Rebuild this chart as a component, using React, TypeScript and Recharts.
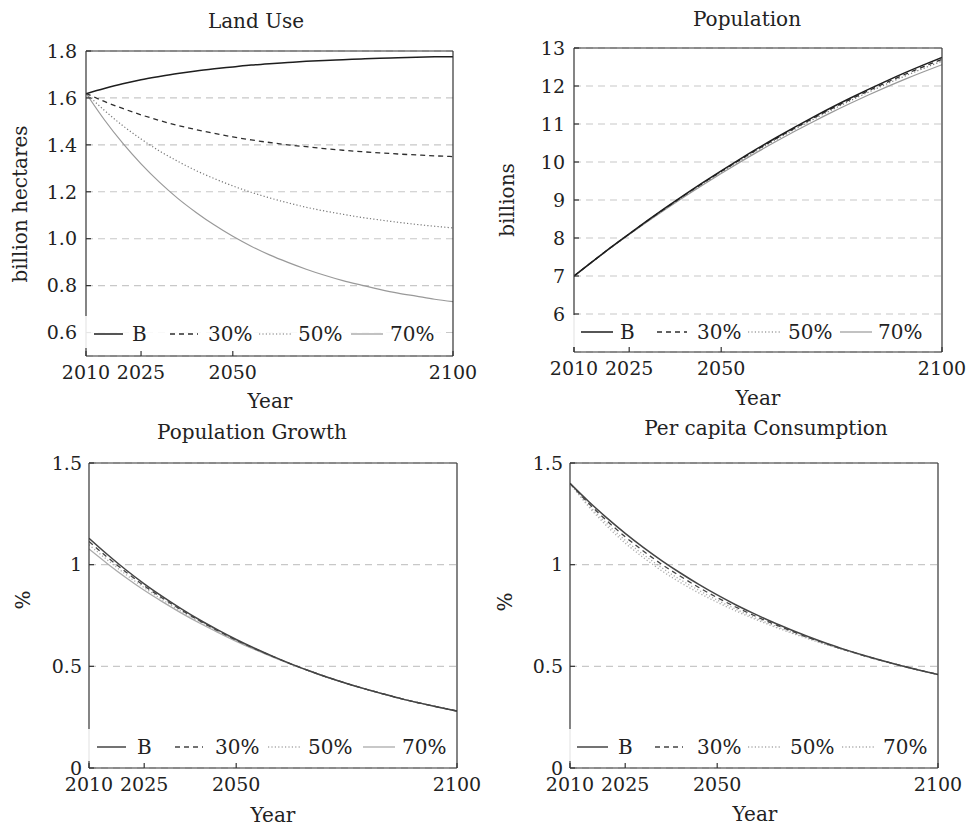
import React from 'react';
import { LineChart, Line, XAxis, YAxis, CartesianGrid, Legend } from 'recharts';

// ---------- data ----------
const steps = [0, 5, 10, 15, 20, 25, 30, 35, 40, 45, 50, 55, 60, 65, 70, 75, 80, 85, 90, 95, 100];
const yearTicks = [0, 15, 40, 100];
const yearLabels = ['2010', '2025', '2050', '2100'];
const seriesKeys = ['B', 's30', 's50', 's70'];
const seriesNames = ['B', '30%', '50%', '70%'];

const landB = [1.618, 1.640, 1.660, 1.677, 1.691, 1.704, 1.715, 1.724, 1.732, 1.740, 1.746, 1.751, 1.756, 1.760, 1.763, 1.766, 1.769, 1.771, 1.773, 1.775, 1.776];
const land30 = [1.620, 1.585, 1.555, 1.528, 1.504, 1.483, 1.465, 1.449, 1.434, 1.421, 1.410, 1.400, 1.392, 1.384, 1.377, 1.371, 1.366, 1.361, 1.357, 1.353, 1.350];
const land50 = [1.620, 1.547, 1.482, 1.425, 1.374, 1.330, 1.290, 1.256, 1.225, 1.198, 1.174, 1.153, 1.134, 1.118, 1.104, 1.091, 1.080, 1.070, 1.061, 1.053, 1.046];
const land70 = [1.620, 1.507, 1.407, 1.319, 1.241, 1.172, 1.112, 1.058, 1.010, 0.968, 0.931, 0.899, 0.870, 0.844, 0.821, 0.802, 0.784, 0.768, 0.755, 0.742, 0.732];

const popB = [7.000, 7.380, 7.751, 8.111, 8.462, 8.803, 9.135, 9.456, 9.768, 10.070, 10.363, 10.645, 10.918, 11.181, 11.435, 11.678, 11.912, 12.136, 12.351, 12.555, 12.750];
const pop30 = [7.000, 7.379, 7.749, 8.106, 8.455, 8.793, 9.123, 9.441, 9.751, 10.050, 10.341, 10.620, 10.891, 11.151, 11.403, 11.643, 11.875, 12.096, 12.309, 12.510, 12.703];
const pop50 = [7.000, 7.378, 7.746, 8.101, 8.447, 8.783, 9.110, 9.426, 9.733, 10.030, 10.318, 10.595, 10.863, 11.121, 11.370, 11.608, 11.837, 12.056, 12.266, 12.465, 12.655];
const pop70 = [7.000, 7.375, 7.741, 8.091, 8.432, 8.763, 9.085, 9.396, 9.698, 9.990, 10.273, 10.545, 10.808, 11.061, 11.305, 11.538, 11.762, 11.976, 12.181, 12.375, 12.560];

const growB = [1.130, 1.050, 0.975, 0.906, 0.843, 0.784, 0.729, 0.679, 0.632, 0.589, 0.549, 0.511, 0.477, 0.445, 0.416, 0.389, 0.364, 0.340, 0.319, 0.299, 0.280];
const grow30 = [1.114, 1.036, 0.964, 0.896, 0.835, 0.778, 0.724, 0.675, 0.629, 0.587, 0.548, 0.511, 0.477, 0.445, 0.416, 0.389, 0.364, 0.340, 0.319, 0.299, 0.280];
const grow50 = [1.098, 1.023, 0.952, 0.887, 0.827, 0.771, 0.719, 0.672, 0.627, 0.585, 0.547, 0.510, 0.477, 0.445, 0.416, 0.389, 0.364, 0.340, 0.319, 0.299, 0.280];
const grow70 = [1.077, 1.005, 0.937, 0.874, 0.817, 0.763, 0.713, 0.667, 0.623, 0.583, 0.545, 0.509, 0.476, 0.445, 0.416, 0.389, 0.364, 0.340, 0.319, 0.299, 0.280];

const consB = [1.400, 1.312, 1.230, 1.154, 1.084, 1.019, 0.959, 0.903, 0.851, 0.803, 0.759, 0.718, 0.680, 0.644, 0.611, 0.581, 0.553, 0.527, 0.503, 0.481, 0.460];
const cons30 = [1.400, 1.303, 1.216, 1.137, 1.066, 1.001, 0.943, 0.888, 0.838, 0.792, 0.750, 0.711, 0.675, 0.640, 0.609, 0.580, 0.552, 0.527, 0.503, 0.481, 0.460];
const cons50 = [1.400, 1.294, 1.202, 1.120, 1.049, 0.984, 0.926, 0.874, 0.826, 0.782, 0.741, 0.704, 0.669, 0.637, 0.606, 0.578, 0.552, 0.526, 0.503, 0.481, 0.460];
const cons70 = [1.400, 1.287, 1.190, 1.106, 1.034, 0.969, 0.912, 0.861, 0.815, 0.773, 0.734, 0.698, 0.665, 0.634, 0.604, 0.577, 0.551, 0.526, 0.503, 0.481, 0.460];

const landTicks = [0.6, 0.8, 1.0, 1.2, 1.4, 1.6, 1.8];
const popTicks = [6, 7, 8, 9, 10, 11, 12, 13];
const pctTicks = [0, 0.5, 1, 1.5];

// ---------- styling / layout ----------
const FONT = "'DejaVu Serif', 'Liberation Serif', serif";
const W = 969;
const H = 827;
const Y_AXIS_W = 60;
const X_AXIS_H = 30;
const TOP_H = 2;
const RIGHT_W = 2;

type LStyle = { stroke: string; width: number; dash?: string };
const stylesTop: Record<string, LStyle> = {
  B: { stroke: '#1e1e1e', width: 1.5 },
  s30: { stroke: '#2e2e2e', width: 1.3, dash: '5 4' },
  s50: { stroke: '#777', width: 1.2, dash: '1.2 2.2' },
  s70: { stroke: '#999', width: 1.2 },
};
const stylesGrowth: Record<string, LStyle> = {
  B: { stroke: '#444', width: 1.5 },
  s30: { stroke: '#444', width: 1.3, dash: '5 4' },
  s50: { stroke: '#aaa', width: 1.3, dash: '1.2 2.2' },
  s70: { stroke: '#aaa', width: 1.3 },
};
const stylesCons: Record<string, LStyle> = {
  B: { stroke: '#444', width: 1.5 },
  s30: { stroke: '#444', width: 1.3, dash: '5 4' },
  s50: { stroke: '#aaa', width: 1.3, dash: '1.2 2.2' },
  s70: { stroke: '#aaa', width: 1.3, dash: '1.2 2.2' },
};

function buildRows(b: number[], a: number[], c: number[], d: number[]) {
  return steps.map((t, i) => ({ t, B: b[i], s30: a[i], s50: c[i], s70: d[i] }));
}

const panels = [
  {
    title: 'Land Use', titleX: 256, titleY: 28,
    yLabel: 'billion hectares', yLabelX: 20, yLabelY: 204,
    xLabelX: 270, xLabelY: 408,
    box: { L: 86, T: 51, R: 453, B: 356 }, yTickMargin: 14,
    yDomain: [0.5, 1.8], yTicks: landTicks, fmt: (v: number) => v.toFixed(1),
    rows: buildRows(landB, land30, land50, land70), styles: stylesTop,
    legend: { left: 84, top: 316, width: 362, height: 32, cy: 334,
      lines: [[94, 123], [170, 198], [259, 293], [351, 383]], texts: [132, 208, 298, 390] },
  },
  {
    title: 'Population', titleX: 747, titleY: 26,
    yLabel: 'billions', yLabelX: 507, yLabelY: 200,
    xLabelX: 758, xLabelY: 405,
    box: { L: 574, T: 48, R: 942, B: 352 }, yTickMargin: 14,
    yDomain: [5, 13], yTicks: popTicks, fmt: (v: number) => String(v),
    rows: buildRows(popB, pop30, pop50, pop70), styles: stylesTop,
    legend: { left: 572, top: 315, width: 362, height: 32, cy: 332,
      lines: [[581, 613], [657, 687], [748, 782], [840, 872]], texts: [620, 697, 788, 878] },
  },
  {
    title: 'Population Growth', titleX: 252, titleY: 439,
    yLabel: '%', yLabelX: 23, yLabelY: 600,
    xLabelX: 273, xLabelY: 822,
    box: { L: 89, T: 463, R: 457, B: 768 }, yTickMargin: 12,
    yDomain: [0, 1.5], yTicks: pctTicks, fmt: (v: number) => String(v),
    rows: buildRows(growB, grow30, grow50, grow70), styles: stylesGrowth,
    legend: { left: 87, top: 729, width: 362, height: 32, cy: 747,
      lines: [[97, 126], [175, 203], [268, 302], [363, 395]], texts: [137, 215, 308, 402] },
  },
  {
    title: 'Per capita Consumption', titleX: 766, titleY: 435,
    yLabel: '%', yLabelX: 505, yLabelY: 602,
    xLabelX: 755, xLabelY: 821,
    box: { L: 570, T: 463, R: 938, B: 768 }, yTickMargin: 12,
    yDomain: [0, 1.5], yTicks: pctTicks, fmt: (v: number) => String(v),
    rows: buildRows(consB, cons30, cons50, cons70), styles: stylesCons,
    legend: { left: 568, top: 729, width: 362, height: 32, cy: 747,
      lines: [[577, 608], [655, 683], [748, 782], [842, 875]], texts: [618, 697, 790, 883] },
  },
];

type Panel = typeof panels[number];

const textStyle = { fontFamily: FONT };

function BottomTick(props: any) {
  const { x, y, payload } = props;
  const i = yearTicks.indexOf(payload.value);
  return (
    <text x={x} y={y} dy="0.71em" textAnchor="middle" fontSize={19} fill="#222" style={textStyle}>
      {yearLabels[i]}
    </text>
  );
}

function makeLeftTick(fmt: (v: number) => string) {
  return function LeftTick(props: any) {
    const { x, y, payload } = props;
    return (
      <text x={x} y={y} dy="0.355em" textAnchor="end" fontSize={19} fill="#222" style={textStyle}>
        {fmt(payload.value)}
      </text>
    );
  };
}

function LegendBox({ payload, p }: { payload?: any[]; p: Panel }) {
  const lg = p.legend;
  const items = (payload || []).slice();
  return (
    <svg width={lg.width} height={lg.height} style={{ display: 'block' }}>
      <rect x={0} y={0} width={lg.width} height={lg.height} fill="#fff" fillOpacity={0.88} />
      {items.map((it: any) => {
        const key = String(it.dataKey);
        const idx = seriesKeys.indexOf(key);
        if (idx < 0) return null;
        const st = p.styles[key];
        const [x1, x2] = lg.lines[idx];
        const cy = lg.cy - lg.top;
        return (
          <g key={key}>
            <line x1={x1 - lg.left} x2={x2 - lg.left} y1={cy} y2={cy}
              stroke={st.stroke} strokeWidth={st.width} strokeDasharray={st.dash} />
            <text x={lg.texts[idx] - lg.left} y={cy + 7} fontSize={20} style={textStyle} fill="#222">
              {it.value}
            </text>
          </g>
        );
      })}
    </svg>
  );
}

function PanelChart({ p }: { p: Panel }) {
  const { box } = p;
  const axisStroke = { stroke: '#333', strokeWidth: 1.2 };
  const order = ['s70', 's50', 's30', 'B'];
  const LeftTick = makeLeftTick(p.fmt);
  return (
    <div style={{ position: 'absolute', left: 0, top: 0, fontFamily: FONT }}>
      <LineChart
        width={W}
        height={H}
        data={p.rows}
        margin={{ top: box.T - TOP_H, left: box.L - Y_AXIS_W, right: W - box.R - RIGHT_W, bottom: H - box.B - X_AXIS_H }}
        style={{ fontFamily: FONT }}
      >
        <CartesianGrid vertical={false} stroke="#c8c8c8" strokeDasharray="7 5" strokeWidth={1.1} />
        <XAxis
          dataKey="t" type="number" domain={[0, 100]} ticks={yearTicks} interval={0} allowDataOverflow
          tickSize={-5} tickMargin={15} height={X_AXIS_H}
          axisLine={axisStroke} tickLine={axisStroke}
          tick={<BottomTick />}
          label={{
            content: () => (
              <text x={p.xLabelX} y={p.xLabelY} textAnchor="middle" fontSize={20} style={textStyle} fill="#222">Year</text>
            ),
          }}
        />
        <XAxis
          xAxisId="top" orientation="top" dataKey="t" type="number" domain={[0, 100]} allowDataOverflow
          ticks={yearTicks} interval={0} tick={false} tickSize={-5} height={TOP_H}
          axisLine={axisStroke} tickLine={axisStroke}
          label={{
            content: () => (
              <text x={p.titleX} y={p.titleY} textAnchor="middle" fontSize={20} style={textStyle} fill="#222">{p.title}</text>
            ),
          }}
        />
        <YAxis
          type="number" domain={p.yDomain} ticks={p.yTicks} interval={0} allowDataOverflow
          width={Y_AXIS_W} tickSize={-5} tickMargin={p.yTickMargin}
          axisLine={axisStroke} tickLine={axisStroke}
          tick={<LeftTick />}
          label={{
            content: () => (
              <text x={p.yLabelX} y={p.yLabelY} transform={`rotate(-90 ${p.yLabelX} ${p.yLabelY})`}
                textAnchor="middle" dominantBaseline="central" fontSize={20} style={textStyle} fill="#222">{p.yLabel}</text>
            ),
          }}
        />
        <YAxis
          yAxisId="right" orientation="right" type="number" domain={p.yDomain} ticks={p.yTicks} allowDataOverflow
          interval={0} tick={false} width={RIGHT_W} tickSize={-5}
          axisLine={axisStroke} tickLine={axisStroke}
        />
        <Legend
          layout="horizontal" verticalAlign="middle" align="center"
          wrapperStyle={{ left: p.legend.left, top: p.legend.top, width: p.legend.width, height: p.legend.height, margin: 0, padding: 0 }}
          content={(lp: any) => <LegendBox payload={lp.payload} p={p} />}
        />
        {order.map((k) => {
          const st = p.styles[k];
          return (
            <Line
              key={k}
              dataKey={k}
              name={seriesNames[seriesKeys.indexOf(k)]}
              type="monotone"
              stroke={st.stroke}
              strokeWidth={st.width}
              strokeDasharray={st.dash}
              dot={false}
              activeDot={false}
              isAnimationActive={false}
            />
          );
        })}
      </LineChart>
    </div>
  );
}

export default function App() {
  return (
    <div style={{ position: 'absolute', left: 0, top: 0, width: W, height: H, background: '#fff', fontFamily: FONT }}>
      {panels.map((p) => (
        <PanelChart key={p.title} p={p} />
      ))}
    </div>
  );
}
